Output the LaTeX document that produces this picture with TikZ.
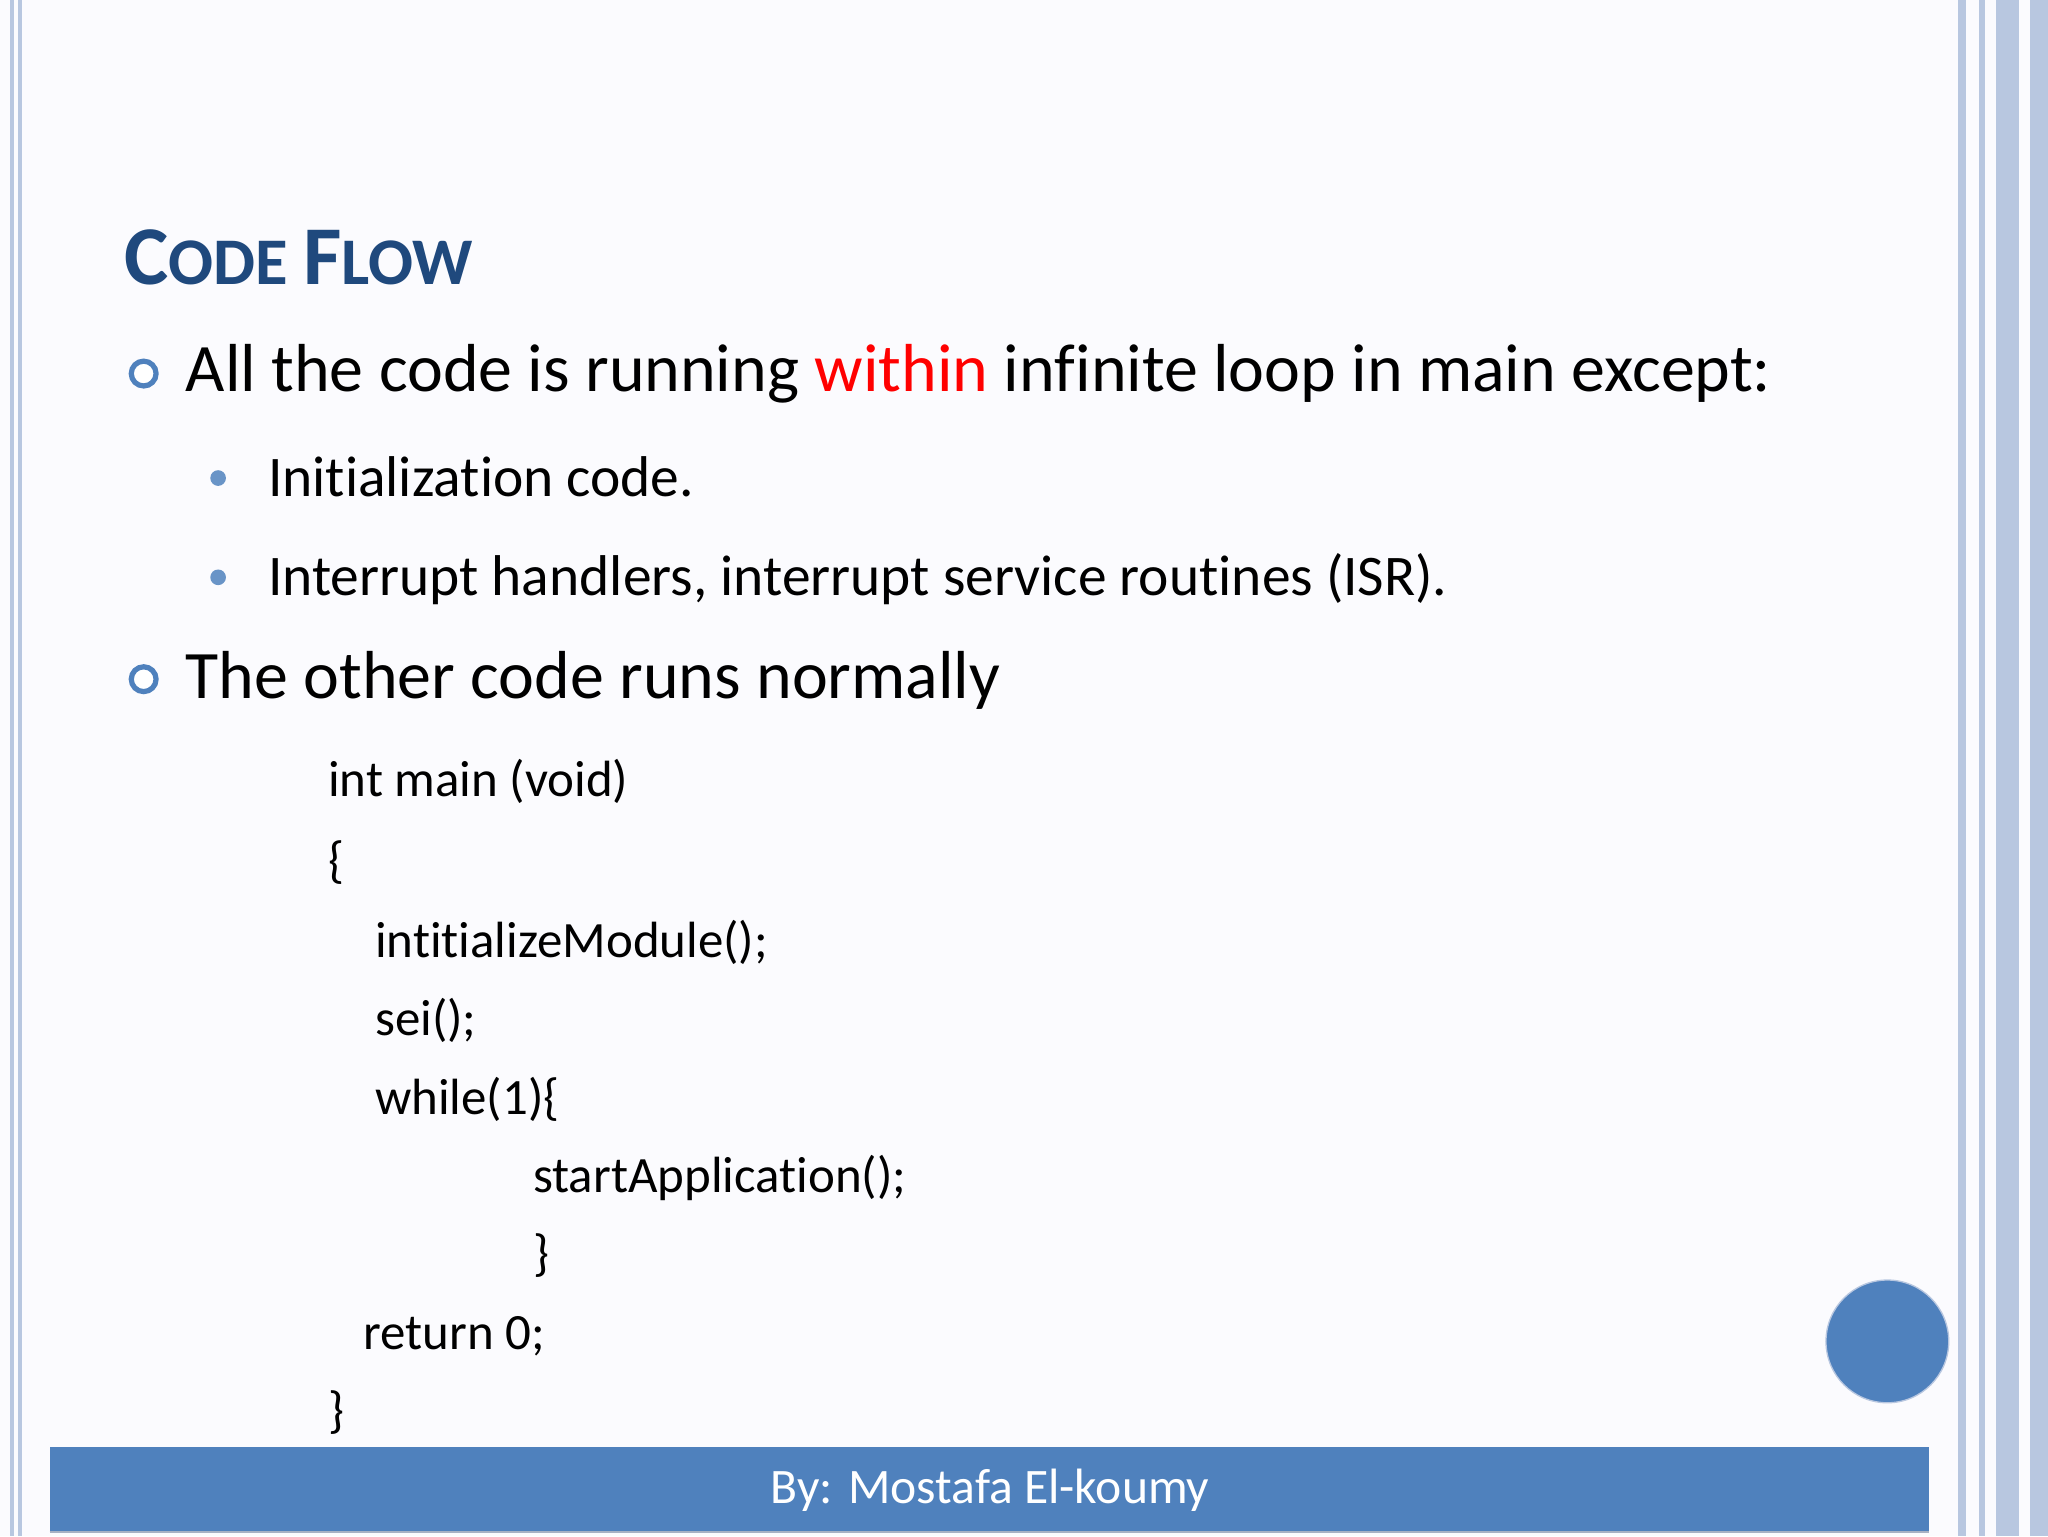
\documentclass[tikz,border=0pt]{standalone}
\usepackage{fontspec}
\setmainfont[Ligatures={NoCommon,TeX}]{Carlito}
\definecolor{acc}{HTML}{4F81BD}
\definecolor{ttl}{HTML}{1F497D}
\definecolor{frm}{HTML}{B8C7E0}
\definecolor{bgc}{HTML}{FBFBFE}
\newcommand{\fs}[1]{\fontsize{#1}{#1}\selectfont}
\begin{document}
\begin{tikzpicture}[x=1pt,y=-1pt,
  txt/.style={anchor=base west,inner sep=0pt},
  codeln/.style={txt,font=\fs{39}},
  hb/.style={draw=acc,line width=4pt,fill=white,circle,minimum size=19pt,inner sep=0pt},
  fb/.style={fill=acc!85,circle,minimum size=12pt,inner sep=0pt}]
\useasboundingbox (0,0) rectangle (1568,1176);
\fill[bgc] (0,0) rectangle (1568,1176);
% frame lines
\fill[frm] (8,0) rectangle (11,1176);
\fill[frm] (14,0) rectangle (17,1176);
\fill[frm] (1499,0) rectangle (1505,1176);
\fill[frm] (1515,0) rectangle (1520,1176);
\fill[frm] (1528,0) rectangle (1546,1176);
\fill[frm] (1554,0) rectangle (1568,1176);
% title
\node[txt,text=ttl,font=\bfseries] (title) at (95,218) {\fs{64}C\fs{51}ODE \fs{64}F\fs{51}LOW};
% bullets
\node[hb] (b1) at (110,286) {};
\node[txt,font=\fs{52}] (t1) at (142,300) {All the code is running \textcolor{red}{within} infinite loop in main except:};
\node[fb] (s1) at (167,366) {};
\node[txt,font=\fs{44}] (t2) at (205,380) {Initialization code.};
\node[fb] (s2) at (167,442) {};
\node[txt,font=\fs{44}] (t3) at (205,456) {Interrupt handlers, interrupt service routines (ISR).};
\node[hb] (b2) at (110,520) {};
\node[txt,font=\fs{52}] (t4) at (142,535) {The other code runs normally};
% code
\node[codeln] (c1) at (251,610) {int main (void)};
\node[codeln] (c2) at (251,672) {\{};
\node[codeln] (c3) at (287,733) {intitializeModule();};
\node[codeln] (c4) at (287,793) {sei();};
\node[codeln] (c5) at (287,853) {while(1)\{};
\node[codeln] (c6) at (408,913) {startApplication();};
\node[codeln] (c7) at (408,973) {\}};
\node[codeln] (c8) at (278,1033) {return 0;};
\node[codeln] (c9) at (251,1093) {\}};
% circle
\node[circle,fill=acc,draw=frm,line width=1pt,minimum size=94pt,inner sep=0pt] (dot) at (1445,1027) {};
% footer
\fill[acc] (38,1108) rectangle (1477,1173);
\draw[frm!70!gray,line width=2pt] (38,1173) -- (1477,1173);
\node[text=white,font=\fs{38},inner sep=0pt] (foot) at (758,1141) {By: Mostafa El-koumy};
\end{tikzpicture}
\end{document}
